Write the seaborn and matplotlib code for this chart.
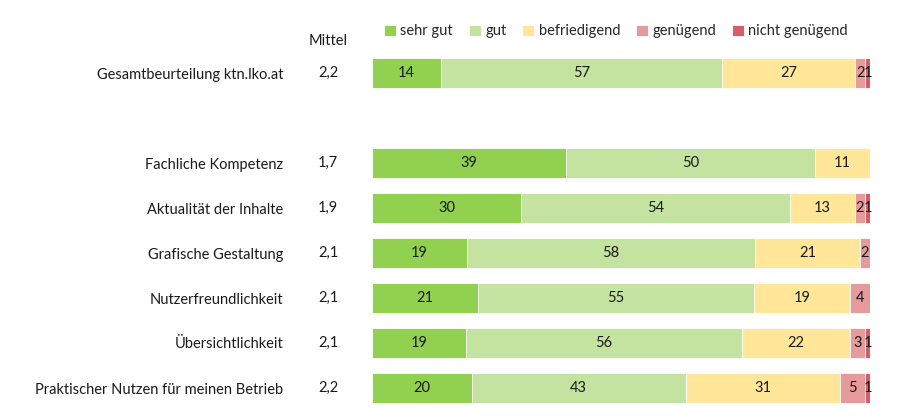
import numpy as np
import pandas as pd
import matplotlib
matplotlib.use("Agg")
import matplotlib.pyplot as plt
import seaborn as sns

sns.set_theme(style="white")
plt.rcParams["font.family"] = ["Lato", "DejaVu Sans"]

# data
kategorien = ["Gesamtbeurteilung ktn.lko.at", "", "Fachliche Kompetenz", "Aktualität der Inhalte",
              "Grafische Gestaltung", "Nutzerfreundlichkeit", "Übersichtlichkeit",
              "Praktischer Nutzen für meinen Betrieb"]
mittel = ["2,2", "", "1,7", "1,9", "2,1", "2,1", "2,1", "2,2"]
stufen = ["sehr gut", "gut", "befriedigend", "genügend", "nicht genügend"]
sehr_gut = [14, 0, 39, 30, 19, 21, 19, 20]
gut = [57, 0, 50, 54, 58, 55, 56, 43]
befriedigend = [27, 0, 11, 13, 21, 19, 22, 31]
genuegend = [2, 0, 0, 2, 2, 4, 3, 5]
nicht_genuegend = [1, 0, 0, 1, 0, 0, 1, 1]
farben = ["#92D050", "#C4E3A0", "#FFE699", "#E59A9C", "#D65F67"]

werte = np.array([sehr_gut, gut, befriedigend, genuegend, nicht_genuegend], dtype=float)
summe = werte.sum(axis=0)
summe[summe == 0] = 1
anteil = werte / summe * 100
kum = np.cumsum(anteil, axis=0)

fig = plt.figure(figsize=(8.99, 4.20), dpi=100)
ax = fig.add_axes([372 / 899, 1 - 410.5 / 420, 498 / 899, 360 / 420])

# stacked via overlaying cumulative bars, widest first
for i in range(len(stufen) - 1, -1, -1):
    df = pd.DataFrame({"kat": kategorien, "wert": kum[i]})
    sns.barplot(data=df, x="wert", y="kat", order=kategorien, color=farben[i],
                saturation=1, width=0.67, orient="h", ax=ax, label=stufen[i],
                edgecolor="white", linewidth=0.6)

for r, kat in enumerate(kategorien):
    if kat == "":
        continue
    for i in range(len(stufen)):
        if werte[i, r] > 0:
            links = kum[i, r] - anteil[i, r]
            ax.text(links + anteil[i, r] / 2, r, f"{int(werte[i, r])}", ha="center", va="center",
                    fontsize=10.5, color="#1a1a1a")
    ax.text(-0.088, r, mittel[r], transform=ax.get_yaxis_transform(), ha="center",
            va="center", fontsize=10.5, color="#1a1a1a")

ax.text(-0.088, -0.72, "Mittel", transform=ax.get_yaxis_transform(), ha="center",
        va="center", fontsize=10.5, color="#1a1a1a")

ax.set_xlim(0, 100)
ax.set_ylim(7.5, -0.5)
ax.set_xlabel("")
ax.set_ylabel("")
ax.set_xticks([])
ax.tick_params(axis="y", length=0, pad=64, labelsize=10.5, labelcolor="#1a1a1a")
sns.despine(ax=ax, left=True, bottom=True)

handles, labels = ax.get_legend_handles_labels()
reihenfolge = [labels.index(s) for s in stufen]
ax.legend([handles[k] for k in reihenfolge], stufen, loc="center", ncol=5,
          bbox_to_anchor=(0.49, 1 + 19 / 360), frameon=False, fontsize=10.5,
          handlelength=0.8, handleheight=0.8, handletextpad=0.3, columnspacing=1.1,
          borderaxespad=0)

fig.savefig("out.png", dpi=100)
